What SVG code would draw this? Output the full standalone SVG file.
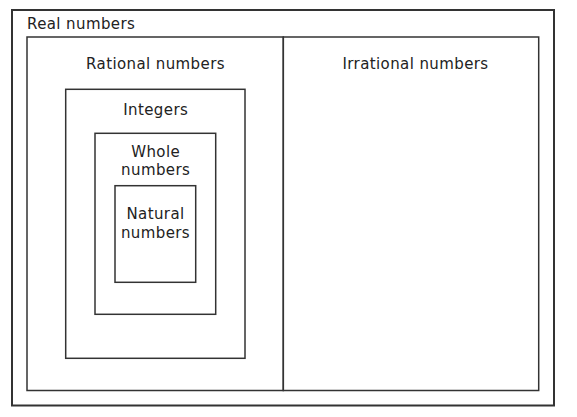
<svg xmlns="http://www.w3.org/2000/svg" width="577" height="417" viewBox="0 0 577 417">
<style>
rect{fill:none;stroke:#333;stroke-width:1.5}
text{font-family:"DejaVu Sans",Verdana,sans-serif;font-size:15px;letter-spacing:0.4px;fill:#222;text-anchor:middle}
</style>
<rect width="577" height="417" style="fill:#fff;stroke:none"/>
<g id="real"><rect x="12" y="10" width="542" height="395.5" style="stroke-width:2"/><text x="27" y="29" style="text-anchor:start">Real numbers</text></g>
<g id="rational"><rect x="27" y="37" width="256.3" height="353.5"/><text x="155.5" y="69">Rational numbers</text></g>
<g id="irrational"><rect x="283.3" y="37" width="255.4" height="353.5"/><text x="415.5" y="69">Irrational numbers</text></g>
<g id="integers"><rect x="65.7" y="89.3" width="179.3" height="269"/><text x="155.7" y="115">Integers</text></g>
<g id="whole"><rect x="95" y="133.3" width="120.7" height="181"/><text x="155.7" y="156.7">Whole</text><text x="155.7" y="175">numbers</text></g>
<g id="natural"><rect x="115" y="185.7" width="80.7" height="96.6"/><text x="155.5" y="219.3">Natural</text><text x="155.5" y="238.3">numbers</text></g>
<g id="connectors"></g>
</svg>
